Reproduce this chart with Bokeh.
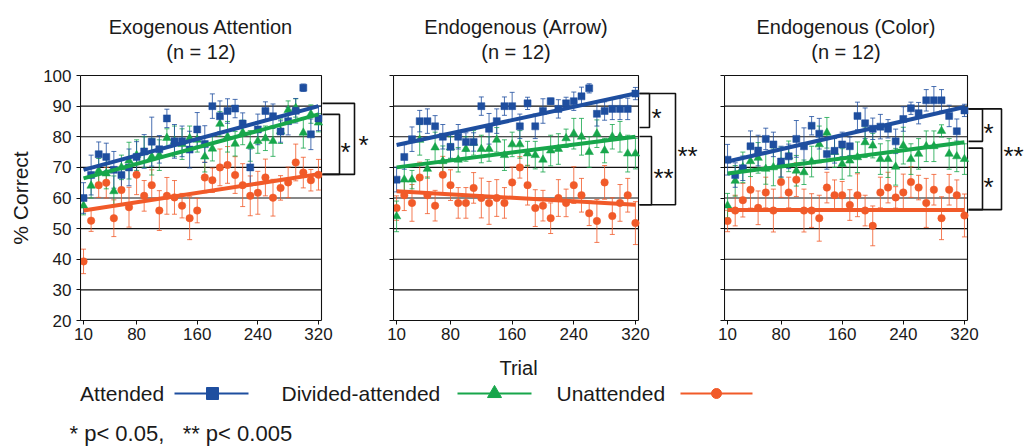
import math
from bokeh.plotting import figure
from bokeh.layouts import row, column
from bokeh.models import Range1d, FixedTicker, ColumnDataSource
from bokeh.core.properties import value
from bokeh.embed import file_html
from bokeh.resources import INLINE

FONT = "Liberation Sans"
TEXT = "#1a1a1a"

# ---------------- data ----------------
trials = [10, 20, 30, 40, 50, 60, 70, 80, 90, 100, 110, 120, 130, 140, 150, 160,
          170, 180, 190, 200, 210, 220, 230, 240, 250, 260, 270, 280, 290, 300, 310, 320]
x_tick_labels = [10, 80, 160, 240, 320]
y_ticks = [20, 30, 40, 50, 60, 70, 80, 90, 100]

panel_titles = ["Exogenous Attention", "Endogenous (Arrow)", "Endogenous (Color)"]
panel_n = ["(n = 12)", "(n = 12)", "(n = 12)"]
series_names = ["Attended", "Divided-attended", "Unattended"]

# Exogenous attention
exo_att = [60, 67.5, 74.3, 73.4, 69.2, 67.5, 70, 73.4, 75.2, 78.4, 75.9, 86, 78.5, 78.5, 75.8, 82.4,
           77.6, 90, 86.7, 88.4, 89.2, 84.3, 70, 82.4, 88.4, 86.7, 81.7, 85.1, 88.5, 96, 80.8, 86]
exo_att_err = [5, 6.5, 4, 4.5, 6, 5, 6, 5, 5.5, 8, 4.5, 3, 5.5, 5, 6, 5.5,
               6, 4, 5, 4, 3, 3.5, 6, 5, 3, 4, 3.5, 4.5, 4, 1.2, 5, 4]
exo_div = [57.5, 64, 68.9, 68, 62.2, 70, 72.2, 74, 75, 73.5, 74, 79.6, 78.5, 77.6, 79.5, 79,
           73.5, 76.1, 84.2, 80, 77.7, 81.4, 77, 78.6, 79.5, 78.6, 81.8, 88.7, 89.4, 81.3, 87.4, 84.6]
exo_div_err = [3, 4, 4, 5, 5, 4, 6, 5, 5, 6, 5, 3, 5, 5, 4, 4,
               5, 4, 4, 5, 4, 4, 5, 4, 4, 5, 4, 3, 3, 5, 3, 3]
exo_un = [39.3, 52.6, 64.2, 65, 53.4, 62.6, 57, 67.6, 60.7, 64.2, 55.9, 60.7, 60.2, 57.5, 53.4, 55.9,
          66.7, 65.8, 70, 70.8, 67.5, 64.2, 60.7, 61.7, 66.7, 60.1, 63.3, 65.1, 71.6, 68.3, 65.8, 67.6]
exo_un_err = [4, 3.5, 4, 5, 6, 5, 6.5, 6.5, 5, 5, 6.5, 6, 5.5, 4, 7, 4,
              5, 4, 6, 6, 6, 7, 6.5, 7, 6, 6, 4, 5, 6, 5, 3.5, 5]

# Endogenous (arrow)
arr_att = [66, 73.4, 79.2, 85.1, 85.1, 83.4, 80, 76.7, 80, 78.3, 78.3, 90, 82.6, 85.1, 90, 90,
           83.4, 90.9, 83.4, 88.4, 91.6, 89.1, 90.9, 91.6, 93.2, 95.8, 87.5, 88.4, 89.1, 89.1, 89.1, 94.1]
arr_att_err = [4, 4, 4, 3.5, 4, 3.5, 4, 4, 4, 3, 3, 3, 5, 4, 3, 4.5,
               4, 2, 4, 4, 1, 3, 2, 3, 3, 1.5, 4, 3, 3.5, 3.5, 3.5, 2]
arr_div = [54, 66, 66, 79, 69.5, 76.5, 72, 76.5, 72.5, 76, 78, 76, 76, 79, 74, 77.5,
           77.5, 74.5, 74, 72.5, 75.5, 76, 79.5, 81, 80, 75, 81, 75.5, 80, 80, 74.5, 74.5]
arr_div_err = [5, 4, 3, 5, 3, 5, 5, 3.5, 4, 4, 4, 4.5, 4, 4, 5, 4,
               4.5, 4, 4.5, 4, 5, 5, 3, 5, 6, 5, 4.5, 4, 4, 5, 6, 5]
arr_un = [56.7, 60.9, 58.4, 66.7, 60.9, 57.5, 67.6, 64.2, 58.4, 58.4, 63.3, 60, 58.4, 60, 58.4, 65.1,
          70, 64.2, 56.7, 57.5, 53.4, 60, 58.4, 64.2, 60.9, 55, 52.5, 65.1, 54.1, 58.4, 60.9, 51.8]
arr_un_err = [4, 5, 6, 5, 6, 5, 6, 5, 5, 5, 5, 6.5, 7, 6, 5, 5,
              3.5, 6.5, 6, 5, 5, 6, 4.5, 6, 5.5, 4, 7, 5.5, 6, 6, 5.5, 7]

# Endogenous (color)
col_att = [72.5, 67.5, 69.7, 76.9, 75.5, 79.3, 77.5, 71.9, 73.6, 79.3, 76.9, 83.6, 81, 74.4, 75.4, 77.5,
           76.9, 86.8, 84.4, 82.6, 83.3, 82.6, 78.5, 85.8, 89.3, 87.7, 91.9, 91.9, 91.9, 86.8, 81.8, 88.6]
col_att_err = [5, 4, 4, 5, 5, 3.5, 4, 5, 4, 6, 6, 3, 5, 5, 4, 4,
               3, 4.5, 5, 3.5, 4, 3, 4, 4, 2, 3.5, 3.5, 4.5, 3.5, 3.5, 4, 2]
col_div = [57.5, 65.6, 70, 72, 73.1, 69.5, 70, 71.6, 73.6, 68.9, 68.4, 71.9, 77.5, 81.3, 75, 71.1,
           72.2, 73.3, 78.2, 77.1, 72.7, 72.7, 70.2, 77.1, 72.7, 74.4, 76.9, 76.9, 81.9, 74.4, 73.6, 72.7]
col_div_err = [4, 5, 5, 5, 5, 5, 6, 5, 5, 5, 4, 5, 6, 5, 5, 5,
               5, 5, 5, 4, 5, 6, 6, 6, 5, 5, 5, 5, 2, 5, 5, 5]
col_un = [52.5, 55.9, 59.3, 62.7, 56.8, 61.8, 55.9, 65.2, 61.8, 66, 55.9, 55.9, 53.4, 63.4, 60.9, 60.9,
          57.7, 60.9, 55.9, 50.9, 61.8, 63.4, 60.2, 61.8, 65.2, 63.4, 58.4, 62.7, 53.4, 62.7, 60.9, 54.3]
col_un_err = [3.5, 5, 5.5, 6, 5.5, 5, 7, 5, 5, 5.5, 7, 5.5, 7.5, 5, 5, 4.5,
              5, 7, 5, 6.5, 5, 5, 3.5, 6, 5, 4, 8, 5, 7, 5, 5, 7]

# linear trend lines (value at first trial, value at last trial)
exo_trend = {"Attended": (69.2, 90.0), "Divided-attended": (66.4, 87.3), "Unattended": (55.9, 67.8)}
arr_trend = {"Attended": (77.3, 94.1), "Divided-attended": (70.0, 80.0), "Unattended": (62.2, 57.8)}
col_trend = {"Attended": (71.9, 89.7), "Divided-attended": (68.0, 78.2), "Unattended": (56.1, 56.1)}

# significance brackets: (top, bottom, label, label_y)
exo_brackets = [(87.3, 67.7, "*", 77.1), (90.9, 67.7, "*", 79.4)]
arr_brackets = [(94.1, 83.0, "*", 88.0), (80.1, 57.8, "**", 68.4), (94.1, 57.8, "**", 75.8)]
col_brackets = [(89.1, 78.5, "*", 83.1), (76.3, 56.2, "*", 65.4), (89.1, 56.2, "**", 75.8)]

footnote = "* p< 0.05,\u00a0\u00a0\u00a0** p< 0.005"
x_label = "Trial"
y_label = "% Correct"

# ---------------- style / layout ----------------
COL = {"Attended": "#1E4E9F", "Divided-attended": "#17A64B", "Unattended": "#F15A29"}
MARK = {"Attended": ("square", 7), "Divided-attended": ("triangle", 8.5), "Unattended": ("circle", 7.5)}

X0, X1 = 6, 324          # plotted trial span
Y0, Y1 = 20, 100
FRAME_H = 320
DATA_H = 245
Y_TOP = Y0 + FRAME_H * (Y1 - Y0) / DATA_H
ROW_BOTTOM = 30
LINE_C = "#111111"


def make_panel(i, series, trend, brackets, left_px, frame_w, data_w, br_px, show_labels):
    scale = data_w / (X1 - X0)
    x_end = X0 + frame_w / scale
    p = figure(width=left_px + frame_w, height=FRAME_H + ROW_BOTTOM,
               x_range=Range1d(X0, x_end), y_range=Range1d(Y0, Y_TOP),
               output_backend="svg", toolbar_location=None,
               min_border_left=left_px, min_border_right=0, min_border_top=0,
               min_border_bottom=ROW_BOTTOM)
    p.outline_line_color = None
    p.xgrid.visible = False
    p.ygrid.visible = False
    p.background_fill_color = "white"
    p.border_fill_color = "white"

    # grid lines within the data region
    gy = y_ticks[1:-1]
    p.segment(x0=[X0] * len(gy), x1=[X1] * len(gy), y0=gy, y1=gy,
              line_color=LINE_C, line_width=1.1)
    p.quad(left=[X0], right=[X1], bottom=[Y0], top=[Y1], fill_color=None,
           line_color=LINE_C, line_width=1.1)

    # axes
    xa = p.xaxis[0]
    xa.ticker = FixedTicker(ticks=x_tick_labels)
    xa.bounds = (X0, X1)
    xa.major_tick_out = 4
    xa.major_tick_in = 0
    xa.minor_tick_out = 0
    xa.minor_tick_in = 0
    xa.axis_line_color = LINE_C
    xa.major_tick_line_color = LINE_C
    xa.major_label_text_font = FONT
    xa.major_label_text_font_size = "17px"
    xa.major_label_text_color = TEXT
    xa.major_label_standoff = 3

    ya = p.yaxis[0]
    ya.ticker = FixedTicker(ticks=y_ticks)
    ya.bounds = (Y0, Y1)
    ya.major_tick_out = 4
    ya.major_tick_in = 0
    ya.minor_tick_out = 0
    ya.minor_tick_in = 0
    ya.axis_line_color = LINE_C
    ya.major_tick_line_color = LINE_C
    ya.major_label_text_font = FONT
    ya.major_label_text_font_size = "17px"
    ya.major_label_text_color = TEXT
    ya.major_label_standoff = 5
    if not show_labels:
        ya.major_label_overrides = {t: "" for t in y_ticks}

    # error bars
    order = ["Unattended", "Divided-attended", "Attended"]
    for name in order:
        vals, errs = series[name]
        lo = [v - e for v, e in zip(vals, errs)]
        hi = [v + e for v, e in zip(vals, errs)]
        src = ColumnDataSource(dict(x=trials, y=vals, lo=lo, hi=hi))
        c = COL[name]
        p.segment(x0="x", x1="x", y0="lo", y1="hi", source=src, line_color=c,
                  line_width=1, line_alpha=0.8)
        p.scatter(x="x", y="lo", source=src, marker="dash", size=5, line_color=c,
                  line_alpha=0.8)
        p.scatter(x="x", y="hi", source=src, marker="dash", size=5, line_color=c,
                  line_alpha=0.8)
    for name in order:
        vals, errs = series[name]
        m, s = MARK[name]
        p.scatter(x=trials, y=vals, marker=m, size=s, fill_color=COL[name],
                  line_color=COL[name], line_width=0.5)
    for name in order:
        a, b = trend[name]
        p.line(x=[trials[0], trials[-1]], y=[a, b], line_color=COL[name],
               line_width=4, line_cap="butt")

    # significance brackets
    xs = X1 + 1 / scale
    for (top, bot, lab, ly), (vx, lx) in zip(brackets, br_px):
        xv = X1 + vx / scale
        p.multi_line(xs=[[xs, xv, xv, xs]], ys=[[top, top, bot, bot]],
                     line_color=LINE_C, line_width=1.6)
        p.text(x=[X1 + lx / scale], y=[ly], text=[lab], text_align="center",
               text_baseline="middle", text_font=value(FONT), text_font_size="26px",
               text_color=LINE_C, y_offset=6)

    # titles
    p.text(x=[(X0 + X1) / 2], y=[115.8], text=[panel_titles[i]], text_align="center",
           text_baseline="alphabetic", text_font=value(FONT), text_font_size="20px",
           text_color=TEXT)
    p.text(x=[(X0 + X1) / 2], y=[107.6], text=[panel_n[i]], text_align="center",
           text_baseline="alphabetic", text_font=value(FONT), text_font_size="20px",
           text_color=TEXT)
    return p


# y-axis title strip (kept separate so it centres on the 20-100 span)
p0 = figure(width=34, height=FRAME_H + ROW_BOTTOM, x_range=Range1d(0, 34),
            y_range=Range1d(Y0, Y_TOP), output_backend="svg", toolbar_location=None,
            x_axis_type=None, y_axis_type=None, min_border_left=0, min_border_right=0,
            min_border_top=0, min_border_bottom=ROW_BOTTOM)
p0.outline_line_color = None
p0.text(x=[20], y=[(Y0 + Y1) / 2], text=[y_label], angle=math.pi / 2, text_align="center",
        text_baseline="middle", text_font=value(FONT), text_font_size="21px", text_color=TEXT)

p1 = make_panel(0,
                {"Attended": (exo_att, exo_att_err), "Divided-attended": (exo_div, exo_div_err),
                 "Unattended": (exo_un, exo_un_err)},
                exo_trend, exo_brackets, 46, 294, 241,
                [(18, 24), (33, 42)], True)
p2 = make_panel(1,
                {"Attended": (arr_att, arr_att_err), "Divided-attended": (arr_div, arr_div_err),
                 "Unattended": (arr_un, arr_un_err)},
                arr_trend, arr_brackets, 19, 312, 245,
                [(11, 18), (13, 25), (37, 49)], False)
p3 = make_panel(2,
                {"Attended": (col_att, col_att_err), "Divided-attended": (col_div, col_div_err),
                 "Unattended": (col_un, col_un_err)},
                col_trend, col_brackets, 19, 302, 243,
                [(15, 21), (15, 21), (34, 46)], False)

# ---------------- bottom strip: axis title, legend, footnote ----------------
pb = figure(width=1026, height=98, x_range=Range1d(0, 1026), y_range=Range1d(448, 350),
            output_backend="svg", toolbar_location=None, x_axis_type=None, y_axis_type=None,
            min_border_left=0, min_border_right=0, min_border_top=0, min_border_bottom=0)
pb.outline_line_color = None

pb.text(x=[518], y=[367], text=[x_label], text_align="center", text_baseline="middle",
        text_font=value(FONT), text_font_size="20px", text_color=TEXT)

leg_text_x = [79.6, 281, 556]
leg_line = [(174, 248, 212), (457, 531, 494), (680, 752, 716)]
leg_size = {"Attended": 12, "Divided-attended": 14, "Unattended": 10}
LY = 393
for name, tx, (l0, l1, mx) in zip(series_names, leg_text_x, leg_line):
    pb.text(x=[tx], y=[LY], text=[name], text_align="left", text_baseline="middle",
            text_font=value(FONT), text_font_size="21px", text_color=TEXT)
    pb.segment(x0=[l0], x1=[l1], y0=[LY], y1=[LY], line_color=COL[name], line_width=2)
    m, _ = MARK[name]
    pb.scatter(x=[mx], y=[LY], marker=m, size=leg_size[name], fill_color=COL[name],
               line_color=COL[name])

pb.text(x=[69], y=[433], text=[footnote], text_align="left", text_baseline="middle",
        text_font=value(FONT), text_font_size="22px", text_color=TEXT)

layout = column(row(p0, p1, p2, p3), pb)
open("out.html", "w").write(file_html(layout, INLINE))
